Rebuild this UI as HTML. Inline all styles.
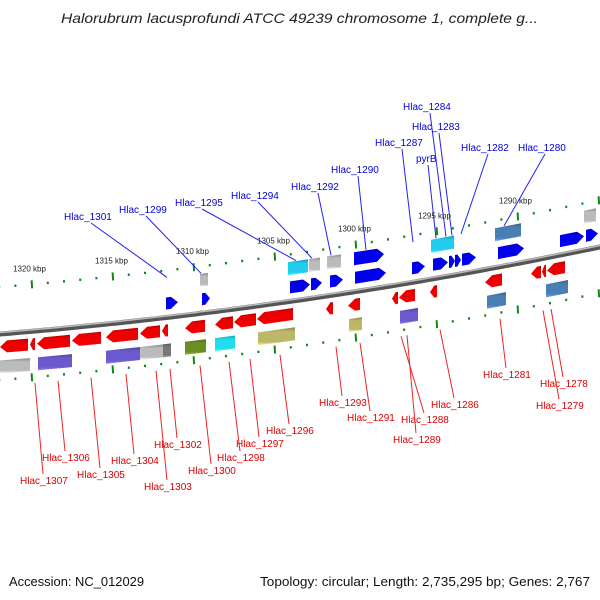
<!DOCTYPE html>
<html><head><meta charset="utf-8"><style>
body{margin:0;background:#fff;}
svg{display:block;font-family:"Liberation Sans",sans-serif;}
</style></head><body>
<svg id="c" width="600" height="600" viewBox="0 0 600 600" xmlns="http://www.w3.org/2000/svg">
<defs>
</defs>
<text x="61" y="23" font-size="14" font-style="italic" fill="#222" textLength="477" lengthAdjust="spacingAndGlyphs">Halorubrum lacusprofundi ATCC 49239 chromosome 1, complete g...</text>
<text x="9" y="586" font-size="13" fill="#111" textLength="135" lengthAdjust="spacingAndGlyphs">Accession: NC_012029</text>
<text x="260" y="586" font-size="13" fill="#111" textLength="330" lengthAdjust="spacingAndGlyphs">Topology: circular; Length: 2,735,295 bp; Genes: 2,767</text>
<g id="g"></g>
</svg>
<script>
// genes: start x, end x, row offset, color, direction (1 forward, -1 reverse)
const geneStart=[166,202,290,311,330,355,412,433,449,455,462,498,560,586, 200,288,309,327,354,431,495,584,
 0,30,37,72,106,140,162,185,215,234,257,326,348,392,399,430,485,531,542,547,
 0,38,106,140,163,185,215,258,349,400,487,546];
const geneEnd=[178,210,310,322,343,386,425,448,455,461,476,524,584,598, 208,308,320,341,384,454,521,596,
 28,35,70,101,138,160,168,205,233,256,293,333,360,398,415,437,502,541,546,565,
 30,72,140,163,171,206,235,295,362,418,506,568];
const geneRow=[-14,-14,-14,-14,-14,-14,-14,-14,-14,-14,-14,-14,-14,-14, -33,-33,-33,-33,-33,-33,-33,-33,
 13,13,13,13,13,13,13,13,13,13,13,13,13,13,13,13,13,13,13,13,
 33,33,33,33,33,33,33,33,33,33,33,33];
const geneColor=['#0000ee','#0000ee','#0000ee','#0000ee','#0000ee','#0000ee','#0000ee','#0000ee','#0000ee','#0000ee','#0000ee','#0000ee','#0000ee','#0000ee',
 '#bbbbbb','#22ccee','#bbbbbb','#bbbbbb','#0000ee','#22ccee','#4a7fb5','#bbbbbb',
 '#ee0000','#ee0000','#ee0000','#ee0000','#ee0000','#ee0000','#ee0000','#ee0000','#ee0000','#ee0000','#ee0000','#ee0000','#ee0000','#ee0000','#ee0000','#ee0000','#ee0000','#ee0000','#ee0000','#ee0000',
 '#bbbbbb','#6a5acd','#6a5acd','#bbbbbb','#777777','#6b8e23','#22ddee','#bdb76b','#bdb76b','#6a5acd','#4a7fb5','#4a7fb5'];
const geneDir=[1,1,1,1,1,1,1,1,1,1,1,1,1,1, 0,0,0,0,1,0,0,0,
 -1,-1,-1,-1,-1,-1,-1,-1,-1,-1,-1,-1,-1,-1,-1,-1,-1,-1,-1,-1,
 0,0,0,0,0,0,0,0,0,0,0,0];
const kbpLabels=['1320 kbp','1315 kbp','1310 kbp','1305 kbp','1300 kbp','1295 kbp','1290 kbp'];
const kbpX=[13,95,176,257,338,418,499];
const topNames=['Hlac_1301','Hlac_1299','Hlac_1295','Hlac_1294','Hlac_1292','Hlac_1290','Hlac_1287','pyrB','Hlac_1284','Hlac_1283','Hlac_1282','Hlac_1280'];
const topTX=[64,119,175,231,291,331,375,416,403,412,461,518];
const topTY=[220,213,206,199,190,173,146,162,110,130,151,151];
const topGX=[167,201,296,312,331,366,413,436,446,452,461,504];
const botNames=['Hlac_1307','Hlac_1306','Hlac_1305','Hlac_1304','Hlac_1303','Hlac_1302','Hlac_1300','Hlac_1298','Hlac_1297','Hlac_1296','Hlac_1293','Hlac_1291','Hlac_1288','Hlac_1289','Hlac_1286','Hlac_1281','Hlac_1278','Hlac_1279'];
const botTX=[20,42,77,111,144,154,188,217,236,266,319,347,401,393,431,483,540,536];
const botTY=[484,461,478,464,490,448,474,461,447,434,406,421,423,443,408,378,387,409];
const botGX=[35,58,91,126,156,170,200,229,250,280,336,360,401,407,440,500,551,543];

const NS='http://www.w3.org/2000/svg';
const G=document.getElementById('g');
function Y(x){return 334-0.0817*x-0.0001056*x*x;}
function mk(t,a,p){const e=document.createElementNS(NS,t);for(const k in a)e.setAttribute(k,a[k]);(p||G).appendChild(e);return e;}
function shade(c,f){const n=parseInt(c.slice(1),16);let r=n>>16,g=(n>>8)&255,b=n&255;r=Math.min(255,Math.round(r*f));g=Math.min(255,Math.round(g*f));b=Math.min(255,Math.round(b*f));return 'rgb('+r+','+g+','+b+')';}

// tick rows
[-47,46].forEach(function(off,ri){
  for(let x=-17;x<=600;x+=16.2){
    const i=Math.round((x+17)/16.2);
    const major=(i%5)===3;
    const y=Y(x)+off;
    const t=mk('line',{x1:x,y1:y-(major?4:1.2),x2:x+(major?0.5:0),y2:y+(major?4:1.2),stroke:'#118811','stroke-width':2});
    
    
  }
});
// kbp labels
for(let i=0;i<kbpLabels.length;i++){
  const t=mk('text',{x:kbpX[i],y:Y(kbpX[i]+18)-60,'font-size':8,fill:'#222'});
  t.textContent=kbpLabels[i];
  
  
}
// backbone
let d='';for(let x=-5;x<=605;x+=5){d+=(x<0?'M':'L')+x+','+Y(x).toFixed(1)+' ';}
const bb=mk('path',{d:d,stroke:'#555',fill:'none','stroke-width':5});


mk('path',{d:d,stroke:'#bbb',fill:'none','stroke-width':1.5,transform:'translate(0,-1.5)'});

// genes
for(let i=0;i<geneStart.length;i++){
  const x1=geneStart[i],x2=geneEnd[i],o=geneRow[i],dir=geneDir[i];
  const h=(Math.abs(o)>20)?13:12;
  const hd=Math.min(7,(x2-x1)*0.6);
  const p=[];
  const top=x=>Y(x)+o-h/2, bot=x=>Y(x)+o+h/2, mid=x=>Y(x)+o;
  if(dir===1){
    p.push([x1,top(x1)],[x2-hd,top(x2-hd)],[x2,mid(x2)],[x2-hd,bot(x2-hd)],[x1,bot(x1)]);
  }else if(dir===-1){
    p.push([x1,mid(x1)],[x1+hd,top(x1+hd)],[x2,top(x2)],[x2,bot(x2)],[x1+hd,bot(x1+hd)]);
  }else{
    p.push([x1,top(x1)],[x2,top(x2)],[x2,bot(x2)],[x1,bot(x1)]);
  }
  const gid='gr'+i;
  const lg=mk('linearGradient',{id:gid,x1:0,y1:0,x2:0,y2:1},document.querySelector('defs'));
  mk('stop',{offset:0,'stop-color':shade(geneColor[i],0.75)},lg);
  mk('stop',{offset:0.25,'stop-color':geneColor[i]},lg);
  mk('stop',{offset:0.8,'stop-color':geneColor[i]},lg);
  mk('stop',{offset:1,'stop-color':shade(geneColor[i],1.35)},lg);
  const g=mk('polygon',{points:p.map(q=>q[0].toFixed(1)+','+q[1].toFixed(1)).join(' '),fill:'url(#'+gid+')'});
  
  
}
// top labels
for(let i=0;i<topNames.length;i++){
  const tx=topTX[i],ty=topTY[i];
  const l=mk('line',{x1:tx+topNames[i].length*3,y1:ty+3,x2:topGX[i],y2:Y(topGX[i])-40,stroke:'#2222ee','stroke-width':1});
  
  
  const t=mk('text',{x:tx,y:ty,'font-size':10,fill:'#0000dd'});
  t.textContent=topNames[i];
  
  
}
for(let i=0;i<botNames.length;i++){
  const tx=botTX[i],ty=botTY[i];
  const l=mk('line',{x1:botGX[i],y1:Y(botGX[i])+52,x2:tx+botNames[i].length*3-4,y2:ty-10,stroke:'#ee2222','stroke-width':1});
  
  
  const t=mk('text',{x:tx,y:ty,'font-size':10,fill:'#dd0000'});
  t.textContent=botNames[i];
  
  
}
</script>
</body></html>
